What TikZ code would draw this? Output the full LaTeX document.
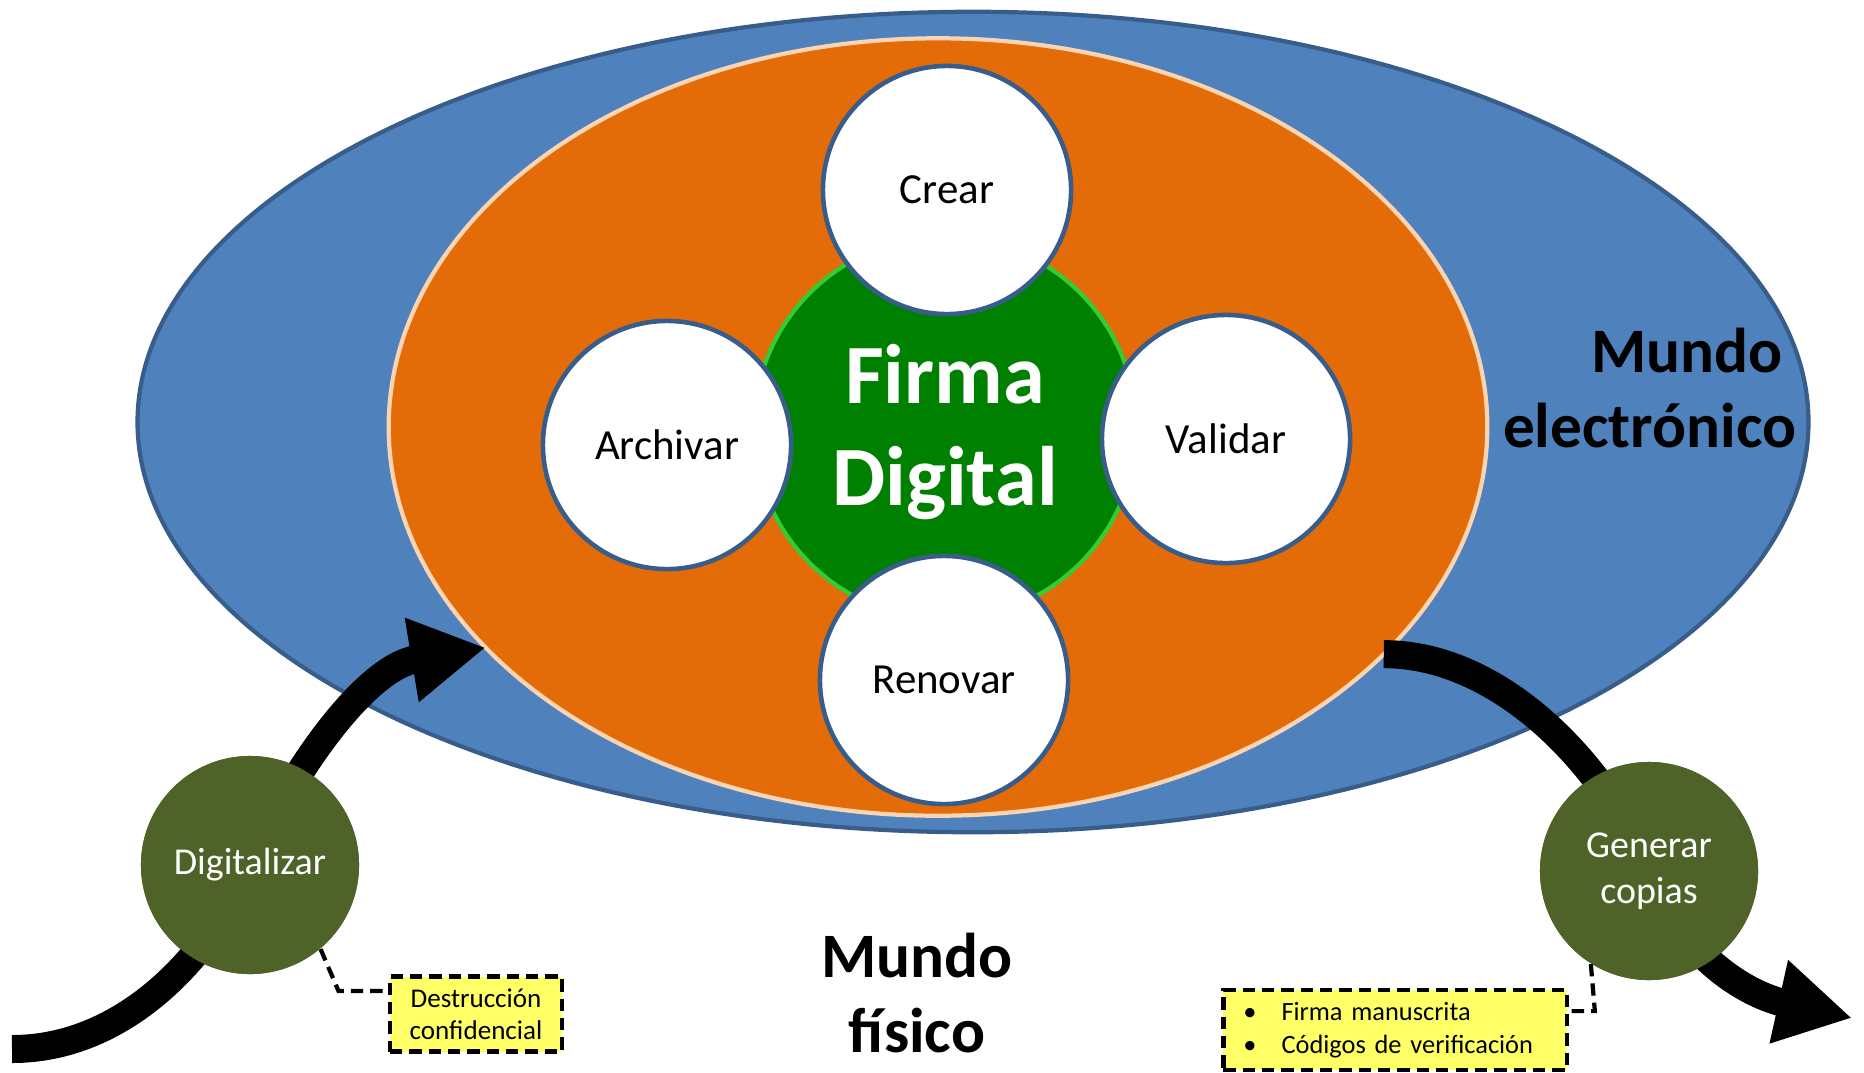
\documentclass[tikz,border=0pt]{standalone}
\usepackage{fontspec}
\setmainfont{Carlito}
\usetikzlibrary{arrows.meta,shapes.geometric}

\definecolor{azul}{HTML}{4F81BD}
\definecolor{azulosc}{HTML}{385D8A}
\definecolor{naranja}{HTML}{E36C09}
\definecolor{melocoton}{HTML}{FBD4B4}
\definecolor{verde}{HTML}{008000}
\definecolor{verdeclaro}{HTML}{33CC33}
\definecolor{oliva}{HTML}{4F6228}
\definecolor{amarillo}{HTML}{FFFF66}

\begin{document}
\begin{tikzpicture}[x=0.01cm, y=-0.01cm,
	mundo/.style={ellipse, inner sep=0pt, outer sep=0pt, line width=1.2pt},
	tarea/.style={circle, draw=azulosc, line width=1.3pt, fill=white, minimum size=2.48cm, inner sep=0pt, font=\fontsize{12.2}{15}\selectfont},
	paso/.style={circle, fill=oliva, minimum size=2.18cm, inner sep=0pt, text=white, align=center, font=\fontsize{10.8}{13}\selectfont},
	nota/.style={draw=black, dash pattern=on 3.5pt off 2pt, line width=1.2pt, fill=amarillo, inner sep=0pt, font=\fontsize{7.7}{9.2}\selectfont},
	enlace/.style={draw=black, dash pattern=on 3.5pt off 2pt, line width=1.2pt},
	flecha/.style={line width=0.28cm, -{Triangle[length=0.75cm,width=0.8cm]}},
	titulo/.style={inner sep=0pt, font=\bfseries\fontsize{18}{21.6}\selectfont}]
	\useasboundingbox (0,0) rectangle (1864,1072);

	% Mundos
	\node [mundo, fill=azul, draw=azulosc, minimum width=16.7cm, minimum height=8.2cm] (electronico) at (973,422) {};
	\node [mundo, fill=naranja, draw=melocoton, minimum width=10.98cm, minimum height=7.77cm] (naranja) at (938,427) {};
	\node [circle, fill=verde, draw=verdeclaro, line width=1.2pt, minimum size=3.82cm, inner sep=0pt] (firma) at (945,428) {};
	\node [text=white, align=center, font=\bfseries\fontsize{24}{28.8}\selectfont] (etiqfirma) at (945,432) {Firma\\Digital};

	% Tareas
	\node [tarea] (crear)    at (947,190) {Crear};
	\node [tarea] (archivar) at (667,445) {Archivar};
	\node [tarea] (validar)  at (1226,439) {Validar};
	\node [tarea] (renovar)  at (944,680) {Renovar};

	% Flechas
	\coordinate (inicio) at (12,1049);
	\coordinate (fin) at (1852,1018);
	\node [paso] (digital) at (250,865) {};
	\node [paso] (copias)  at (1649,871) {};
	\draw [flecha] (inicio) .. controls +(110,0) and +(-42,95) .. (digital.center)
		.. controls +(42,-95) and +(-120,20) .. (naranja.206);
	\draw [flecha] (naranja.333) .. controls +(120,0) and +(-40,-100) .. (copias.center)
		.. controls +(40,100) and +(-90,-20) .. (fin);
	\node [paso] at (digital) {Digitalizar};
	\node [paso] at (copias) {Generar\\copias};

	% Notas
	\node [nota, minimum width=1.72cm, minimum height=0.75cm, align=center] (destruccion) at (476,1014) {Destrucción\\confidencial};
	\node [nota, minimum width=3.43cm, minimum height=0.8cm, inner xsep=0.2cm, text width=3.03cm, align=left, font=\fontsize{7.5}{9.4}\selectfont] (firmas) at (1395,1030)
		{\textbullet\hspace{0.25cm}Firma manuscrita\\\textbullet\hspace{0.25cm}Códigos de verificación};
	\draw [enlace] (digital.-50) -- ++(18,42) coordinate (k1) -- (k1 -| destruccion.west);
	\draw [enlace] (copias.238) -- ++(4,47) coordinate (k2) -- (k2 -| firmas.east);

	% Etiquetas
	\node [titulo, align=right, anchor=east] (etiqelec) at (1797,388) {Mundo\hspace*{0.14cm}\\electrónico};
	\node [titulo, align=center] (etiqfis) at (917,993) {Mundo\\físico};
\end{tikzpicture}
\end{document}
